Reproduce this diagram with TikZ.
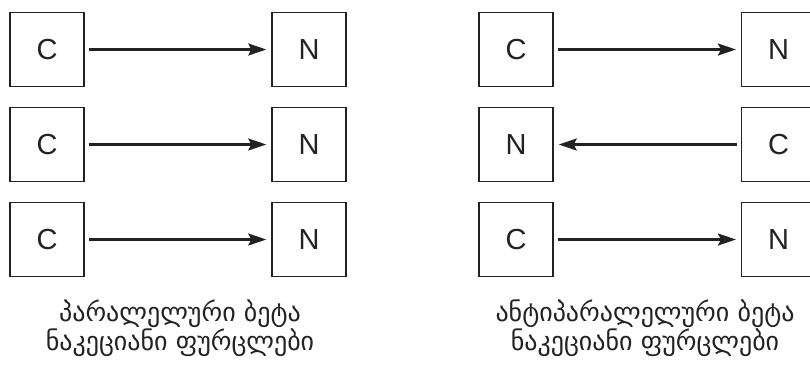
\documentclass[tikz,border=0pt]{standalone}
\usepackage{fontspec}
\setmainfont{Liberation Sans}
\newfontfamily\geofont[Script=Georgian]{DejaVu Sans}
\usetikzlibrary{arrows.meta}
\definecolor{ink}{HTML}{222222}
\begin{document}
\begin{tikzpicture}[x=1pt,y=-1pt,
  strand/.style={draw=ink,line width=1.5pt,minimum size=74pt,inner sep=0pt,
    font=\fontsize{29}{29}\selectfont,text=ink},
  bond/.style={draw=ink,line width=2.2pt,-{Stealth[length=18pt,width=12pt,inset=3pt]},
    shorten <=4pt,shorten >=5pt},
  caption/.style={align=center,text=ink,font=\geofont\fontsize{26}{27}\selectfont}]
\useasboundingbox (0,0) rectangle (810,365);
% parallel sheet
\node[strand] (pc1) at (47,49.5) {C};
\node[strand] (pn1) at (309,49.5) {N};
\node[strand] (pc2) at (47,144.5) {C};
\node[strand] (pn2) at (309,144.5) {N};
\node[strand] (pc3) at (47,239.5) {C};
\node[strand] (pn3) at (309,239.5) {N};
\draw[bond] (pc1) -- (pn1);
\draw[bond] (pc2) -- (pn2);
\draw[bond] (pc3) -- (pn3);
% antiparallel sheet
\node[strand] (ac1) at (516,49.5) {C};
\node[strand] (an1) at (778.7,49.5) {N};
\node[strand] (an2) at (516,144.5) {N};
\node[strand] (ac2) at (778.7,144.5) {C};
\node[strand] (ac3) at (516,239.5) {C};
\node[strand] (an3) at (778.7,239.5) {N};
\draw[bond] (ac1) -- (an1);
\draw[bond] (ac2) -- (an2);
\draw[bond] (ac3) -- (an3);
% captions
\node[caption] (lp) at (180,328) {პარალელური ბეტა\\ნაკეციანი ფურცლები};
\node[caption] (la) at (645,328) {ანტიპარალელური ბეტა\\ნაკეციანი ფურცლები};
\end{tikzpicture}
\end{document}
